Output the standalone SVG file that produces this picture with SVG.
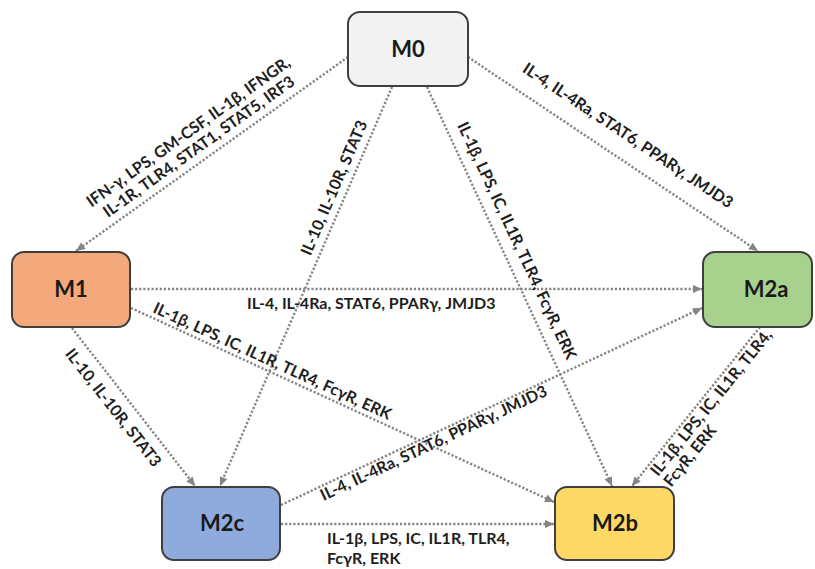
<svg xmlns="http://www.w3.org/2000/svg" width="815" height="569" viewBox="0 0 815 569">
<style>
.node{stroke:#3f3f3f;stroke-width:2}
.nl{font-family:Lato,"Open Sans","Liberation Sans",sans-serif;font-weight:700;font-size:22px;fill:#1a1a1a;text-anchor:middle}
.lb{font-family:Lato,"Open Sans","Liberation Sans",sans-serif;font-weight:700;font-size:16px;fill:#1e1e1e}
.c{text-anchor:middle}
.conn line{stroke:#858585;stroke-width:2.4;stroke-dasharray:2.2 1.9;fill:none;marker-end:url(#ah)}
</style>
<defs>
<marker id="ah" viewBox="0 0 10 10" refX="10" refY="5" markerWidth="10" markerHeight="9" markerUnits="userSpaceOnUse" orient="auto">
<path d="M0,0.5 L10,5 L0,9.5 z" fill="#858585"/>
</marker>
</defs>
<rect width="815" height="569" fill="#ffffff"/>
<g id="connectors" class="conn">
<line x1="348" y1="57" x2="76" y2="251"/>
<line x1="468" y1="57" x2="758" y2="251"/>
<line x1="392" y1="87" x2="220" y2="486"/>
<line x1="427" y1="87" x2="612" y2="486"/>
<line x1="131" y1="289" x2="702" y2="289"/>
<line x1="131" y1="308" x2="554" y2="502"/>
<line x1="72" y1="328" x2="195" y2="486"/>
<line x1="281" y1="505" x2="702" y2="308"/>
<line x1="281" y1="524" x2="554" y2="524"/>
<line x1="760" y1="327" x2="632" y2="486"/>
</g>
<g id="labels">
<g transform="translate(202,151) rotate(-35.5)"><text class="lb c" x="0" y="-18">IFN-γ, LPS, GM-CSF, IL-1β, IFNGR,</text><text class="lb c" x="0" y="0">IL-1R, TLR4, STAT1, STAT5, IRF3</text></g>
<text class="lb c" transform="translate(625,140) rotate(33.6)">IL-4, IL-4Ra, STAT6, PPARγ, JMJD3</text>
<text class="lb c" transform="translate(339,190) rotate(-66.7)">IL-10, IL-10R, STAT3</text>
<text class="lb c" transform="translate(512,243) rotate(65)">IL-1β, LPS, IC, IL1R, TLR4, FcγR, ERK</text>
<text class="lb" x="247" y="309">IL-4, IL-4Ra, STAT6, PPARγ, JMJD3</text>
<text class="lb c" transform="translate(270,366) rotate(24.6)">IL-1β, LPS, IC, IL1R, TLR4, FcγR, ERK</text>
<text class="lb c" transform="translate(109,411) rotate(52)">IL-10, IL-10R, STAT3</text>
<text class="lb c" transform="translate(436,448) rotate(-25.2)">IL-4, IL-4Ra, STAT6, PPARγ, JMJD3</text>
<g transform="translate(658,477) rotate(-51)"><text class="lb" x="0" y="0">IL-1β, LPS, IC, IL1R, TLR4,</text><text class="lb" x="0" y="17">FcγR, ERK</text></g>
<text class="lb" x="327" y="544">IL-1β, LPS, IC, IL1R, TLR4,</text>
<text class="lb" x="327" y="564">FcγR, ERK</text>
</g>
<g id="M0"><rect class="node" x="348" y="12" width="120" height="74" rx="12" fill="#f2f2f2"/><text class="nl" x="408" y="57">M0</text></g>
<g id="M1"><rect class="node" x="12" y="252" width="118" height="75" rx="12" fill="#f4a97c"/><text class="nl" x="71" y="297">M1</text></g>
<g id="M2a"><rect class="node" x="703" y="252" width="109" height="75" rx="12" fill="#a9d18e"/><text class="nl" x="766" y="297">M2a</text></g>
<g id="M2c"><rect class="node" x="162" y="487" width="118" height="73" rx="12" fill="#8faadc"/><text class="nl" x="222" y="531">M2c</text></g>
<g id="M2b"><rect class="node" x="555" y="487" width="119" height="73" rx="12" fill="#ffd966"/><text class="nl" x="615" y="531">M2b</text></g>
</svg>
